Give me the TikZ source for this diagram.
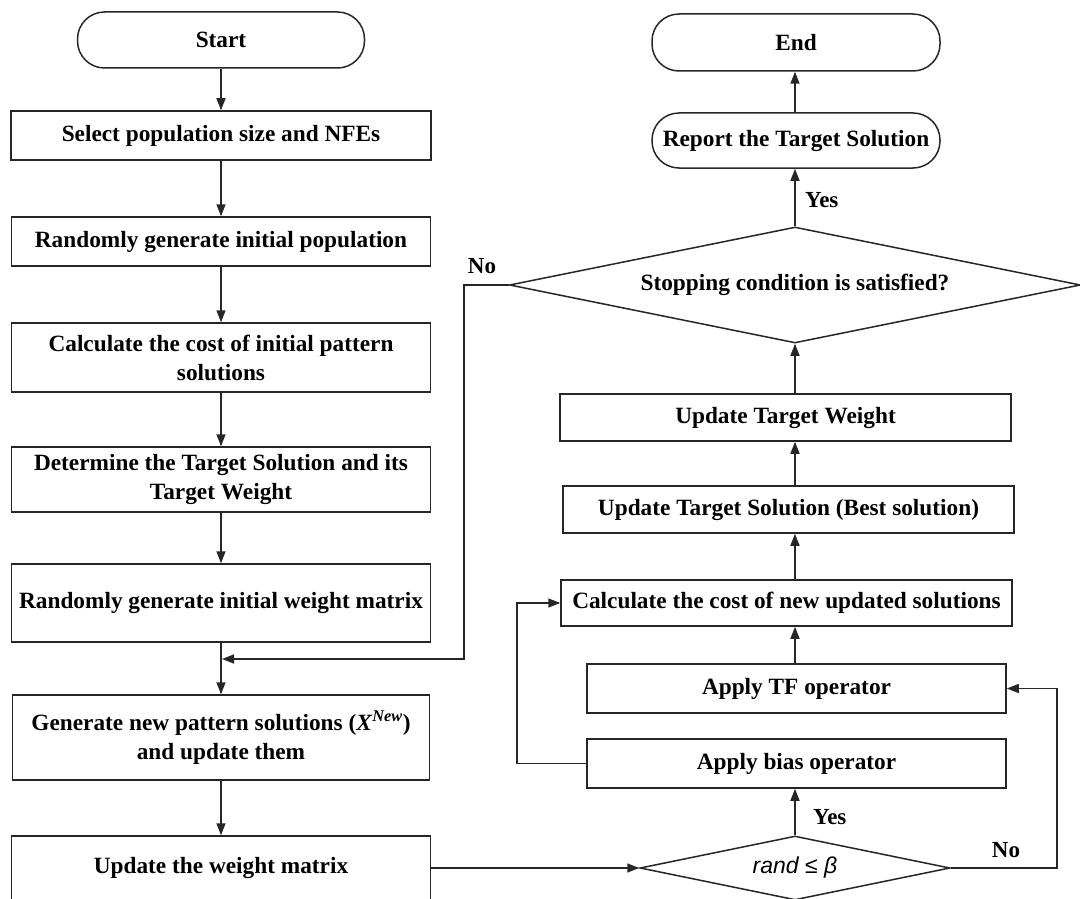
\documentclass[tikz,border=0pt]{standalone}
\usepackage{fontspec}
\setmainfont{Liberation Serif}
\newfontfamily\arialish{Liberation Sans}
\usetikzlibrary{shapes.geometric,arrows.meta}
\begin{document}
\begin{tikzpicture}[x=1pt,y=-1pt,
  line/.style={draw=black!85, line width=1.5pt},
  arr/.style={line, -{Triangle[length=12pt,width=9pt]}},
  box/.style={rectangle, draw=black!85, line width=1.5pt, inner sep=0pt, align=center,
    font=\fontsize{23.3}{29}\selectfont\bfseries, minimum width=419pt},
  term/.style={box, rounded corners=27pt},
  dec/.style={diamond, draw=black!85, line width=1.5pt, inner sep=0pt, align=center,
    font=\fontsize{23.3}{29}\selectfont\bfseries},
  lbl/.style={font=\fontsize{23}{26}\selectfont\bfseries, inner sep=0pt}
]
\useasboundingbox (0,0) rectangle (1080,899);
\begin{scope}
\clip (0,0) rectangle (1080,899);
% left column
\node[term, minimum width=287pt, minimum height=56pt] (start) at (221,40) {Start};
\node[box, minimum width=420pt, minimum height=49pt] (b1) at (221,135.5) {Select population size and NFEs};
\node[box, minimum height=49pt] (b2) at (221,241.5) {Randomly generate initial population};
\node[box, minimum height=69pt] (b3) at (221,357.5) {Calculate the cost of initial pattern\\solutions};
\node[box, minimum height=65pt] (b4) at (221,479.5) {Determine the Target Solution and its\\Target Weight};
\node[box, minimum height=78pt] (b5) at (221,603) {Randomly generate initial weight matrix};
\node[box, minimum width=417pt, minimum height=85pt] (b6) at (221,737.5) {Generate new pattern solutions (\textit{X}\textsuperscript{\textit{New}})\\and update them};
\node[box, minimum height=64pt] (b7) at (221,868) {Update the weight matrix};
% right column
\node[term, minimum width=288pt, minimum height=57pt] (end) at (796,42.5) {End};
\node[term, minimum width=288pt, minimum height=55pt] (report) at (796,140.5) {Report the Target Solution};
\node[dec, minimum width=571pt, minimum height=116pt, aspect=4.9] (stop) at (795,285) {Stopping condition is satisfied?};
\node[box, minimum width=451pt, minimum height=47pt] (utw) at (785.5,417.5) {Update Target Weight};
\node[box, minimum width=451pt, minimum height=47pt] (uts) at (788.5,509.5) {Update Target Solution (Best solution)};
\node[box, minimum width=451pt, minimum height=46pt] (calc) at (786.5,603) {Calculate the cost of new updated solutions};
\node[box, minimum height=49pt] (tf) at (796.5,688.5) {Apply TF operator};
\node[box, minimum height=49pt] (bias) at (796.5,763.5) {Apply bias operator};
\node[dec, minimum width=310pt, minimum height=64pt, aspect=4.8,
  font=\arialish\itshape\fontsize{23}{26}\selectfont] (rand) at (795,868) {rand ≤ β};
% helper coordinates
\coordinate (cx) at (795,0);
\coordinate (nx) at (464,0);
\coordinate (jn) at (222,659);
\coordinate (rx) at (1057,0);
\coordinate (lx) at (517,0);
% left arrows
\draw[arr] (start) -- (b1);
\draw[arr] (b1) -- (b2);
\draw[arr] (b2) -- (b3);
\draw[arr] (b3) -- (b4);
\draw[arr] (b4) -- (b5);
\draw[arr] (b5) -- (b6);
\draw[arr] (b6) -- (b7);
% loop back from stopping condition
\draw[arr] (stop.west) -| (nx |- jn) -- (jn);
% to rand
\draw[arr] (b7.east) -- (rand.west);
% right column arrows
\draw[arr] (rand.north) -- (bias.south -| cx);
\draw[arr] (rand.east) -| (rx |- tf.east) -- (tf.east);
\draw[arr] (bias.west) -| (lx |- calc.west) -- (calc.west);
\draw[arr] (tf.north -| cx) -- (calc.south -| cx);
\draw[arr] (calc.north -| cx) -- (uts.south -| cx);
\draw[arr] (uts.north -| cx) -- (utw.south -| cx);
\draw[arr] (utw.north -| cx) -- (stop.south);
\draw[arr] (stop.north) -- (report.south -| cx);
\draw[arr] (report.north -| cx) -- (end.south -| cx);
% labels
\node[lbl, anchor=west] (yes1) at (805,200) {Yes};
\node[lbl] (no1) at (482,266) {No};
\node[lbl, anchor=west] (yes2) at (813,817) {Yes};
\node[lbl] (no2) at (1006,850) {No};
\end{scope}
\end{tikzpicture}
\end{document}
